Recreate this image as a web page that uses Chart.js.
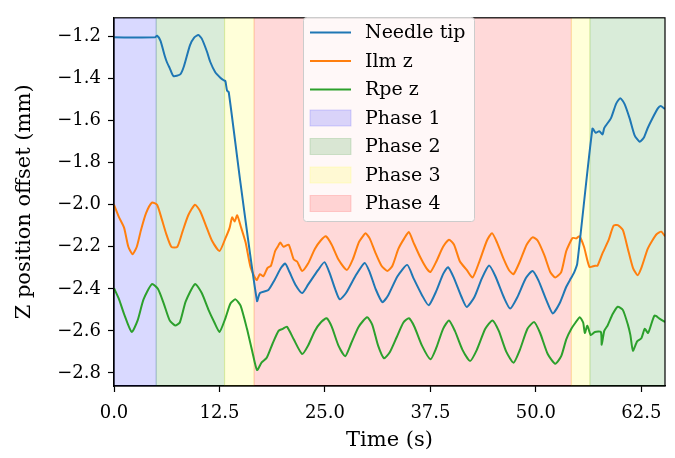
<!DOCTYPE html>
<html><head><meta charset="utf-8">
<script src="https://cdn.jsdelivr.net/npm/chart.js@4/dist/chart.umd.min.js"></script>
<style>html,body{margin:0;padding:0;background:#fff}</style>
</head><body>
<canvas id="c" width="675" height="458"></canvas>
<script>
// ---- Data ----
const needleT = [0,4.87,5.1,5.5,6.0,6.25,6.6,7.05,7.85,8.3,9.0,9.5,10.0,10.4,11.0,11.4,12.0,12.6,13.0,13.2,13.4,13.6,15.0,16.95,17.3,18.3,19.0,19.8,20.3,20.8,21.5,22.3,23.0,24.2,24.95,25.6,26.2,26.75,27.5,28.6,29.7,30.3,31.0,31.8,32.5,33.6,34.75,35.5,36.5,37.3,38.2,39.0,39.6,40.3,41.2,41.8,42.7,43.6,44.45,45.2,46.2,46.95,47.8,48.8,49.6,50.3,51.3,52.0,52.8,53.6,54.15,54.55,54.9,56.7,57.1,57.5,57.9,58.1,58.9,59.5,60.0,60.5,61.1,61.7,62.3,62.8,63.25,63.8,64.45,64.8,65.3];
const needleZ = [-1.204,-1.204,-1.196,-1.22,-1.29,-1.32,-1.35,-1.388,-1.38,-1.34,-1.242,-1.205,-1.193,-1.21,-1.27,-1.32,-1.37,-1.396,-1.408,-1.412,-1.458,-1.465,-1.90,-2.458,-2.42,-2.405,-2.36,-2.30,-2.28,-2.32,-2.38,-2.42,-2.38,-2.31,-2.273,-2.33,-2.40,-2.45,-2.42,-2.34,-2.277,-2.32,-2.40,-2.463,-2.43,-2.34,-2.286,-2.35,-2.43,-2.478,-2.41,-2.33,-2.297,-2.35,-2.44,-2.486,-2.44,-2.35,-2.289,-2.34,-2.44,-2.494,-2.44,-2.35,-2.315,-2.36,-2.46,-2.517,-2.47,-2.39,-2.35,-2.32,-2.28,-1.638,-1.658,-1.650,-1.666,-1.635,-1.588,-1.52,-1.493,-1.52,-1.588,-1.67,-1.70,-1.68,-1.635,-1.59,-1.542,-1.53,-1.545];

const ilmT = [0,0.6,1.2,1.7,2.2,2.7,3.2,3.8,4.5,5.1,5.6,6.2,6.8,7.5,8.1,8.8,9.6,10.2,10.9,11.6,12.5,13.2,13.7,14.0,14.3,14.6,15.0,15.6,16.2,16.9,17.3,17.7,18.2,18.6,19.1,19.4,19.7,20.1,20.7,21.3,21.7,22.3,23.0,23.8,24.5,25.1,25.8,26.6,27.6,28.3,29.0,29.5,29.8,30.3,31.0,31.7,32.4,33.0,33.7,34.4,34.95,35.5,36.3,37.0,37.5,38.2,39.0,39.7,40.3,41.0,41.8,42.5,43.3,44.2,44.8,45.4,46.2,46.8,47.35,48.1,48.9,49.6,50.2,51.0,51.7,52.3,53.0,53.6,54.35,54.8,55.15,55.7,56.35,57.0,57.3,57.9,58.6,59.2,59.7,60.3,60.9,61.5,62.05,62.5,63.25,63.8,64.3,64.85,65.3];
const ilmZ = [-2.00,-2.06,-2.11,-2.20,-2.235,-2.20,-2.12,-2.04,-1.99,-2.00,-2.06,-2.14,-2.20,-2.20,-2.13,-2.05,-2.00,-2.03,-2.10,-2.17,-2.22,-2.16,-2.11,-2.06,-2.08,-2.05,-2.10,-2.18,-2.30,-2.358,-2.33,-2.34,-2.30,-2.29,-2.22,-2.20,-2.18,-2.20,-2.19,-2.26,-2.27,-2.315,-2.28,-2.21,-2.17,-2.15,-2.19,-2.26,-2.31,-2.26,-2.18,-2.15,-2.135,-2.16,-2.23,-2.29,-2.315,-2.29,-2.21,-2.16,-2.13,-2.18,-2.25,-2.30,-2.32,-2.27,-2.20,-2.166,-2.19,-2.27,-2.31,-2.346,-2.27,-2.17,-2.135,-2.18,-2.26,-2.31,-2.33,-2.27,-2.19,-2.155,-2.17,-2.24,-2.32,-2.346,-2.32,-2.22,-2.158,-2.16,-2.15,-2.20,-2.296,-2.29,-2.29,-2.23,-2.17,-2.10,-2.097,-2.12,-2.21,-2.30,-2.335,-2.30,-2.21,-2.17,-2.14,-2.128,-2.15];

const rpeT = [0,0.6,1.2,2.1,2.8,3.5,4.5,5.2,5.9,6.6,7.25,7.8,8.5,9.6,10.4,11.2,11.9,12.5,13.2,13.8,14.4,15.0,15.75,16.4,16.95,17.5,18.1,18.8,19.5,20.0,20.5,21.3,22.3,23.0,23.8,24.5,25.2,25.8,26.6,27.4,28.1,29.0,30.0,30.6,31.3,32.0,32.7,33.5,34.3,34.95,35.6,36.5,37.5,38.2,39.0,39.7,40.4,41.3,42.2,43.0,44.0,44.85,45.6,46.5,47.35,48.1,49.0,49.8,50.5,51.4,52.3,53.0,53.6,54.2,54.7,55.2,55.6,55.8,56.1,56.5,57.0,57.7,57.8,58.1,58.5,59.1,59.7,60.3,60.9,61.2,61.5,62.0,62.5,62.9,63.3,64.05,64.6,65.3];
const rpeZ = [-2.397,-2.45,-2.52,-2.605,-2.55,-2.45,-2.377,-2.40,-2.47,-2.55,-2.574,-2.56,-2.46,-2.377,-2.42,-2.50,-2.56,-2.605,-2.54,-2.47,-2.45,-2.48,-2.589,-2.70,-2.786,-2.75,-2.728,-2.66,-2.60,-2.59,-2.58,-2.64,-2.71,-2.67,-2.60,-2.56,-2.54,-2.58,-2.67,-2.72,-2.66,-2.58,-2.535,-2.57,-2.67,-2.73,-2.70,-2.63,-2.56,-2.54,-2.58,-2.67,-2.735,-2.68,-2.59,-2.55,-2.60,-2.69,-2.743,-2.69,-2.59,-2.55,-2.60,-2.70,-2.751,-2.69,-2.59,-2.558,-2.61,-2.71,-2.756,-2.72,-2.64,-2.59,-2.56,-2.535,-2.56,-2.61,-2.575,-2.62,-2.605,-2.605,-2.666,-2.60,-2.574,-2.52,-2.485,-2.50,-2.57,-2.62,-2.694,-2.65,-2.635,-2.59,-2.61,-2.527,-2.54,-2.558];

const seriesLabels = ['Needle tip', 'Ilm z', 'Rpe z'];
const phaseNames = ['Phase 1', 'Phase 2', 'Phase 3', 'Phase 4', 'Phase 3', 'Phase 2'];
const phaseStart = [0, 5.0, 13.1, 16.6, 54.2, 56.4];
const phaseEnd   = [5.0, 13.1, 16.6, 54.2, 56.4, 66.0];
const xTicks = [0, 12.5, 25, 37.5, 50, 62.5];
const yTicks = [-2.8, -2.6, -2.4, -2.2, -2.0, -1.8, -1.6, -1.4, -1.2];

// ---- Styles ----
const lineColors = ['#1f77b4', '#ff7f0e', '#2ca02c'];
const phaseColors = {
  'Phase 1': 'rgba(0,0,255,0.15)',
  'Phase 2': 'rgba(0,128,0,0.15)',
  'Phase 3': 'rgba(255,255,0,0.15)',
  'Phase 4': 'rgba(255,0,0,0.15)'
};
const FONT = 'DejaVu Serif';
const TICK_FS = 18, TITLE_FS = 21, LEG_FS = 19;

const toPts = (t, z) => t.map((v, i) => ({x: v, y: z[i]}));

const phasePlugin = {
  id: 'phases',
  beforeDatasetsDraw(chart) {
    const {ctx, chartArea: a, scales: {x}} = chart;
    ctx.save();
    ctx.beginPath(); ctx.rect(a.left, a.top, a.right - a.left, a.bottom - a.top); ctx.clip();
    phaseNames.forEach((n, i) => {
      const x0 = x.getPixelForValue(phaseStart[i]);
      const x1 = x.getPixelForValue(phaseEnd[i]);
      ctx.fillStyle = phaseColors[n];
      ctx.strokeStyle = phaseColors[n];
      ctx.lineWidth = 1.2;
      ctx.fillRect(x0, a.top, x1 - x0, a.bottom - a.top);
      ctx.strokeRect(x0, a.top, x1 - x0, a.bottom - a.top);
    });
    ctx.restore();
  },
  afterDraw(chart) {
    const {ctx, chartArea: a} = chart;
    ctx.save();
    ctx.strokeStyle = '#000'; ctx.lineWidth = 1.2;
    ctx.strokeRect(a.left, a.top, a.right - a.left, a.bottom - a.top);
    // legend
    const bx = 303.5, by = 17.5, bw = 171, bh = 204, r = 3;
    ctx.beginPath();
    ctx.moveTo(bx + r, by); ctx.lineTo(bx + bw - r, by); ctx.arcTo(bx + bw, by, bx + bw, by + r, r);
    ctx.lineTo(bx + bw, by + bh - r); ctx.arcTo(bx + bw, by + bh, bx + bw - r, by + bh, r);
    ctx.lineTo(bx + r, by + bh); ctx.arcTo(bx, by + bh, bx, by + bh - r, r);
    ctx.lineTo(bx, by + r); ctx.arcTo(bx, by, bx + r, by, r); ctx.closePath();
    ctx.fillStyle = 'rgba(255,255,255,0.8)'; ctx.fill();
    ctx.strokeStyle = '#cccccc'; ctx.lineWidth = 1; ctx.stroke();
    const uniquePhases = [...new Set(phaseNames)].sort();
    const items = seriesLabels.map((l, i) => ({label: l, type: 'line', color: lineColors[i]}))
      .concat(uniquePhases.map(p => ({label: p, type: 'patch', color: phaseColors[p]})));
    ctx.font = LEG_FS + 'px "' + FONT + '"';
    ctx.textBaseline = 'middle';
    ctx.textAlign = 'left';
    items.forEach((it, i) => {
      const cy = 32.5 + i * 28.5;
      if (it.type === 'line') {
        ctx.strokeStyle = it.color; ctx.lineWidth = 2;
        ctx.beginPath(); ctx.moveTo(310, cy); ctx.lineTo(351, cy); ctx.stroke();
      } else {
        ctx.fillStyle = it.color; ctx.strokeStyle = it.color; ctx.lineWidth = 1;
        ctx.fillRect(310, cy - 8, 41, 16); ctx.strokeRect(310, cy - 8, 41, 16);
      }
      ctx.fillStyle = '#000';
      ctx.fillText(it.label, 365, cy + 1);
    });
    ctx.restore();
  }
};

const tickFont = {family: FONT, size: TICK_FS};
const titleFont = {family: FONT, size: TITLE_FS};
new Chart(document.getElementById('c'), {
  type: 'line',
  data: {
    datasets: [
      {label: seriesLabels[0], data: toPts(needleT, needleZ), borderColor: lineColors[0]},
      {label: seriesLabels[1], data: toPts(ilmT, ilmZ), borderColor: lineColors[1]},
      {label: seriesLabels[2], data: toPts(rpeT, rpeZ), borderColor: lineColors[2]}
    ]
  },
  options: {
    responsive: false,
    animation: false,
    devicePixelRatio: 1,
    layout: {padding: {top: 7, right: 10, left: 0, bottom: 0}},
    elements: {
      line: {borderWidth: 2, tension: 0.2, fill: false},
      point: {radius: 0}
    },
    plugins: {legend: {display: false}, tooltip: {enabled: false}},
    scales: {
      x: {
        type: 'linear', min: 0, max: 65.3,
        afterBuildTicks: s => { s.ticks = xTicks.map(v => ({value: v})); },
        afterFit: s => { s.height = 72; },
        ticks: {callback: v => v.toFixed(1), font: tickFont, color: '#000', padding: 11, maxRotation: 0, autoSkip: false},
        grid: {display: true, drawOnChartArea: false, drawTicks: true, tickLength: 6, tickColor: '#000', tickWidth: 1.2},
        border: {display: true, color: '#000', width: 1.2},
        title: {display: true, text: 'Time (s)', font: titleFont, color: '#000', padding: {top: 0, bottom: 5}}
      },
      y: {
        type: 'linear', min: -2.862, max: -1.111,
        afterBuildTicks: s => { s.ticks = yTicks.map(v => ({value: v})); },
        afterFit: s => { s.width = 114; },
        ticks: {callback: v => (v < 0 ? '\u2212' : '') + Math.abs(v).toFixed(1), font: tickFont, color: '#000', padding: 7, autoSkip: false},
        grid: {display: true, drawOnChartArea: false, drawTicks: true, tickLength: 6, tickColor: '#000', tickWidth: 1.2},
        border: {display: true, color: '#000', width: 1.2},
        title: {display: true, text: 'Z position offset (mm)', font: titleFont, color: '#000', padding: {top: 12, bottom: 0}}
      }
    }
  },
  plugins: [phasePlugin]
});
</script>
</body></html>
